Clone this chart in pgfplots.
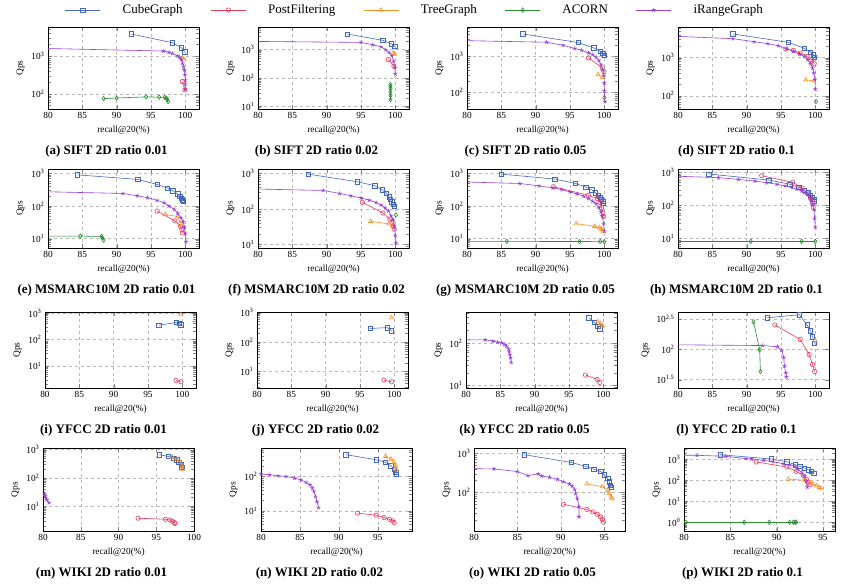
\documentclass[border=0pt]{standalone}
\usepackage{fontspec}
\setmainfont{Liberation Serif}
\usepackage{pgfplots}
\pgfplotsset{compat=1.18}

\definecolor{cCube}{RGB}{68,104,190}
\definecolor{cPost}{RGB}{232,58,92}
\definecolor{cTree}{RGB}{247,146,40}
\definecolor{cAcorn}{RGB}{40,140,48}
\definecolor{cIRange}{RGB}{150,62,214}

\pgfkeys{/pgf/number format/assume math mode=true}
\pgfplotsset{
  log number format basis/.code 2 args={#1\textsuperscript{\pgfmathprintnumber{#2}}},
}
\pgfplotsset{
  panel/.style={
    scale only axis, width=151pt, anchor=north west,
    xmin=80, xmax=102,
    xtick={80,85,90,95,100},
    grid=major, major grid style={dashed, gray!55, line width=0.5pt},
    tick label style={font=\fontsize{9.3}{10}\selectfont},
    label style={font=\fontsize{9.3}{10}\selectfont},
    xlabel={recall@20(\%)}, ylabel={Qps},
    title style={at={(0.5,0)}, anchor=center, yshift=-48pt, xshift=-17pt,
                 font=\fontsize{13}{15}\selectfont\bfseries},
    axis line style={line width=0.8pt},
    every axis plot/.append style={line width=0.6pt},
  },
  cube/.style={color=cCube, mark=square, mark size=2.2pt},
  post/.style={color=cPost, mark=o, mark size=2.2pt},
  tree/.style={color=cTree, mark=triangle, mark size=2.4pt},
  acorn/.style={color=cAcorn, mark=diamond, mark size=2.2pt},
  irange/.style={color=cIRange, mark=star, mark size=2.1pt},
}

\begin{document}
\begin{tikzpicture}

% ---------------- row 1: SIFT ----------------
\begin{semilogyaxis}[panel, at={(48pt,-27pt)}, height=82pt, ymin=40, ymax=5800,
  title={(a) SIFT 2D ratio 0.01},
  legend columns=5,
  legend style={at={(2.43,1.207)}, anchor=center, draw=none, fill=none,
    font=\fontsize{13}{15}\selectfont,
    /tikz/every odd column/.append style={column sep=20pt},
    /tikz/every even column/.append style={column sep=26pt}},
  legend image code/.code={\draw[mark repeat=2,mark phase=2]
    plot coordinates {(0pt,0pt) (17.5pt,0pt) (35pt,0pt)};}]
\addplot[cube] coordinates {(92.1,3800)(98.1,2240)(99.4,1660)(99.95,1300)};
\addlegendentry{CubeGraph}
\addplot[post] coordinates {(99.55,211)(99.95,127)};
\addlegendentry{PostFiltering}
\addplot[tree] coordinates {(99.6,900)(99.8,800)};
\addlegendentry{TreeGraph}
\addplot[acorn] coordinates {(88.1,75)(90.0,78)(94.3,83.5)(96.2,82)(97.0,81)(97.2,78)(97.4,72)(97.5,62)};
\addlegendentry{ACORN}
\addplot[irange] coordinates {(70,1720)(96.8,1350)(97.6,1250)(98.1,1170)(98.9,1000)(99.2,900)(99.4,815)(99.6,640)(99.75,530)(99.85,430)(99.95,320)(100,230)(100,180)(100,130)};
\addlegendentry{iRangeGraph}
\end{semilogyaxis}

\begin{semilogyaxis}[panel, at={(258pt,-27pt)}, height=82pt, ymin=8, ymax=6300,
  title={(b) SIFT 2D ratio 0.02}]
\addplot[cube] coordinates {(93.0,3550)(98.2,2130)(99.4,1630)(99.95,1310)};
\addplot[post] coordinates {(99.0,445)(99.8,260)};
\addplot[tree] coordinates {(99.7,760)(99.9,700)};
\addplot[acorn] coordinates {(99.3,58)(99.3,50)(99.3,42)(99.3,32)(99.3,24)(99.3,17)};
\addplot[irange] coordinates {(70,2050)(95.0,1800)(96.7,1480)(97.9,1270)(98.6,1000)(99.1,800)(99.5,610)(99.75,390)(99.95,228)(100,138)};
\end{semilogyaxis}

\begin{semilogyaxis}[panel, at={(467pt,-27pt)}, height=82pt, ymin=34, ymax=6500,
  title={(c) SIFT 2D ratio 0.05}]
\addplot[cube] coordinates {(88.1,4170)(96.2,2400)(98.5,1700)(99.4,1380)(99.8,1190)(100,1070)};
\addplot[post] coordinates {(97.7,900)(99.7,475)(99.95,370)};
\addplot[tree] coordinates {(99.1,310)(99.75,256)};
\addplot[acorn] coordinates {(100,71)};
\addplot[irange] coordinates {(70,2950)(91.6,2450)(94.0,2020)(95.7,1630)(96.7,1470)(97.7,1240)(98.3,1110)(98.8,940)(99.2,760)(99.5,590)(99.75,425)(99.95,290)(100,180)(100,107)(100.1,54)};
\end{semilogyaxis}

\begin{semilogyaxis}[panel, at={(678pt,-27pt)}, height=82pt, ymin=45, ymax=6400,
  title={(d) SIFT 2D ratio 0.1}]
\addplot[cube] coordinates {(88.0,4200)(96.1,2530)(98.4,1760)(99.3,1410)(99.7,1200)(99.9,1040)};
\addplot[post] coordinates {(95.7,1690)(96.8,1560)(97.8,1320)(98.8,1080)(99.5,890)(99.85,695)};
\addplot[tree] coordinates {(98.6,263)(99.75,245)};
\addplot[acorn] coordinates {(100.1,71)};
\addplot[irange] coordinates {(70,4300)(88.0,3160)(91.1,2630)(93.1,2335)(94.6,2070)(95.8,1725)(96.8,1468)(97.7,1248)(98.4,1084)(98.9,886)(99.3,695)(99.6,535)(99.8,395)(99.95,264)(100,150)};
\end{semilogyaxis}

% ---------------- row 2: MSMARC10M ----------------
\begin{semilogyaxis}[panel, at={(48pt,-169pt)}, height=79pt, ymin=5.2, ymax=1360,
  title={(e) MSMARC10M 2D ratio 0.01}]
\addplot[cube] coordinates {(84.3,900)(93.1,653)(95.9,457)(97.4,355)(98.2,294)(98.9,234)(99.2,200)(99.4,176)(99.6,157)(99.7,140)};
\addplot[post] coordinates {(95.9,70)(98.5,35)(99.3,24)(99.5,19)(99.6,15)};
\addplot[tree] coordinates {(97.1,55)(98.9,48)(99.3,30)};
\addplot[acorn] coordinates {(70,12)(84.7,12)(87.8,11.8)(87.9,10.8)(88.1,9.0)};
\addplot[irange] coordinates {(70,304)(90.9,243)(93.0,206)(94.5,180)(95.9,149)(96.9,127)(97.6,100)(98.4,79)(98.9,60)(99.4,44)(99.7,33)(99.85,23)(100,14.6)(100.1,7.9)};
\end{semilogyaxis}

\begin{semilogyaxis}[panel, at={(258pt,-169pt)}, height=79pt, ymin=8, ymax=1330,
  title={(f) MSMARC10M 2D ratio 0.02}]
\addplot[cube] coordinates {(87.35,950)(94.5,582)(97.0,449)(98.1,346)(98.7,273)(99.1,220)(99.3,185)(99.5,158)(99.7,137)(99.85,120)};
\addplot[post] coordinates {(95.2,154)(98.2,77)(99.2,52)(99.5,42)(99.7,33)(99.85,27)};
\addplot[tree] coordinates {(96.4,45)(99.1,38)(99.6,34)};
\addplot[acorn] coordinates {(100.1,68)};
\addplot[irange] coordinates {(70,400)(89.5,332)(91.9,273)(93.5,236)(95.0,204)(96.2,177)(97.2,152)(97.9,130)(98.5,109)(99.0,88)(99.4,65)(99.7,50)(99.85,34)(100,18)(100.1,11)};
\end{semilogyaxis}

\begin{semilogyaxis}[panel, at={(467pt,-169pt)}, height=79pt, ymin=5.2, ymax=1360,
  title={(g) MSMARC10M 2D ratio 0.05}]
\addplot[cube] coordinates {(85.0,950)(92.8,670)(95.8,492)(97.3,378)(98.2,311)(98.7,254)(99.1,216)(99.4,185)(99.6,162)(99.8,140)(99.9,122)};
\addplot[post] coordinates {(92.6,390)(97.7,213)(99.0,170)(99.4,128)(99.6,89)(99.8,63)(99.9,48)};
\addplot[tree] coordinates {(95.9,29)(98.6,24)(99.3,22)(99.6,19.4)(99.8,17)};
\addplot[acorn] coordinates {(70,8.3)(85.8,8.3)(96.4,8.2)(99.4,8.3)(100,8.1)};
\addplot[irange] coordinates {(70,620)(87.7,490)(90.5,414)(92.5,360)(93.8,320)(95.0,272)(96.0,236)(97.0,200)(97.7,170)(98.3,140)(98.8,118)(99.2,89)(99.5,67)(99.7,50)(99.9,29)(100,17)};
\end{semilogyaxis}

\begin{semilogyaxis}[panel, at={(678pt,-169pt)}, height=79pt, ymin=5.2, ymax=1260,
  title={(h) MSMARC10M 2D ratio 0.1}]
\addplot[cube] coordinates {(84.5,890)(93.2,586)(96.3,437)(97.6,352)(98.4,288)(99.0,240)(99.3,204)(99.6,178)(99.8,154)(99.9,134)};
\addplot[post] coordinates {(92.2,790)(96.7,500)(98.1,333)(98.9,236)(99.3,168)(99.6,120)(99.7,88)};
\addplot[acorn] coordinates {(70,8.3)(90.6,8.3)(98.0,8.3)(100,8.3)};
\addplot[irange] coordinates {(70,900)(85.9,690)(88.8,613)(91.2,546)(92.9,487)(94.4,437)(95.6,390)(96.6,348)(97.3,310)(98.0,278)(98.4,245)(98.8,210)(99.2,170)(99.4,136)(99.6,104)(99.8,74)(99.9,41)(100,22)};
\end{semilogyaxis}

% ---------------- row 3: YFCC ----------------
\begin{semilogyaxis}[panel, at={(45pt,-312pt)}, height=76pt, ymin=1.45, ymax=1090,
  title={(i) YFCC 2D ratio 0.01}]
\addplot[cube] coordinates {(96.6,345)(99.1,435)(99.6,398)(99.8,355)};
\addplot[post] coordinates {(99.1,2.8)(99.8,2.5)};
\addplot[tree] coordinates {(99.8,865)};
\end{semilogyaxis}

\begin{semilogyaxis}[panel, at={(257pt,-312pt)}, height=76pt, ymin=2.76, ymax=1050,
  title={(j) YFCC 2D ratio 0.02}]
\addplot[cube] coordinates {(96.5,290)(99.0,310)(99.6,245)};
\addplot[post] coordinates {(98.5,5.1)(99.6,4.5)};
\addplot[tree] coordinates {(99.6,673)};
\end{semilogyaxis}

\begin{semilogyaxis}[panel, at={(466pt,-312pt)}, height=76pt, ymin=8.7, ymax=540,
  title={(k) YFCC 2D ratio 0.05}]
\addplot[cube] coordinates {(97.9,395)(98.7,305)(99.2,250)(99.5,215)};
\addplot[post] coordinates {(97.4,17.6)(99.1,13.9)(99.5,11.8)};
\addplot[tree] coordinates {(99.2,320)(99.6,285)(99.9,257)};
\addplot[irange] coordinates {(70,121)(82.8,119)(83.9,111)(84.6,105)(85.2,102)(85.6,93)(85.9,84)(86.2,72)(86.3,63)(86.4,53)(86.5,45)(86.6,35)};
\end{semilogyaxis}

\begin{semilogyaxis}[panel, at={(678pt,-312pt)}, height=76pt, ymin=23, ymax=410,
  ytick={31.6228,100,316.228}, minor ytick={},
  yticklabels={10\textsuperscript{1.5},10\textsuperscript{2},10\textsuperscript{2.5}},
  title={(l) YFCC 2D ratio 0.1}]
\addplot[cube] coordinates {(93.0,330)(97.7,370)(98.8,252)(99.3,200)(99.6,160)(99.9,126)};
\addplot[post] coordinates {(94.1,250)(97.8,145)(99.1,82)(99.6,56)(99.9,43)};
\addplot[tree] coordinates {(100,140)};
\addplot[acorn] coordinates {(91.0,282)(91.9,98)(92.0,43)};
\addplot[irange] coordinates {(70,121)(92.3,115)(94.5,110)(95.1,96)(95.4,73)(95.5,53)(95.7,41)(95.8,35)};
\end{semilogyaxis}

% ---------------- row 4: WIKI ----------------
\begin{semilogyaxis}[panel, at={(43pt,-448pt)}, height=83pt, ymin=1.3, ymax=1150,
  xmax=100,
  title={(m) WIKI 2D ratio 0.01}]
\addplot[cube] coordinates {(95.4,663)(96.6,578)(97.3,504)(97.7,440)(98.0,363)(98.3,291)(98.4,240)};
\addplot[post] coordinates {(92.6,3.7)(96.2,3.4)(96.8,3.2)(97.1,2.9)(97.4,2.6)(97.5,2.4)};
\addplot[tree] coordinates {(97.1,547)(97.7,464)(98.2,353)(98.4,268)(98.5,204)};
\addplot[irange] coordinates {(70,30)(80.2,27)(80.3,22.6)(80.4,18.8)(80.5,16.4)(80.8,13.2)};
\end{semilogyaxis}

\begin{semilogyaxis}[panel, at={(261pt,-448pt)}, height=83pt, ymin=2.6, ymax=668,
  xmax=99.4, xtick={80,85,90,95},
  title={(n) WIKI 2D ratio 0.02}]
\addplot[cube] coordinates {(90.9,428)(94.8,305)(96.0,256)(96.7,204)(97.1,163)(97.3,131)(97.4,114)};
\addplot[post] coordinates {(92.4,8.6)(94.8,7.5)(95.8,6.4)(96.5,5.7)(96.9,5.1)(97.1,4.6)};
\addplot[tree] coordinates {(96.0,383)(96.7,320)(97.1,256)(97.3,204)(97.4,156)};
\addplot[irange] coordinates {(70,125)(80.0,117)(81.1,112)(82.2,105)(83.2,100)(84.3,89)(85.1,80)(85.8,67)(86.3,57)(86.6,46)(86.8,37)(87.0,26)(87.2,18.5)(87.4,12.4)};
\end{semilogyaxis}

\begin{semilogyaxis}[panel, at={(474pt,-448pt)}, height=83pt, ymin=10.5, ymax=1340,
  xmax=97.4, xtick={80,85,90,95},
  title={(o) WIKI 2D ratio 0.05}]
\addplot[cube] coordinates {(85.8,906)(91.2,577)(92.9,455)(93.8,389)(94.6,339)(95.0,278)(95.4,229)(95.6,188)(95.7,154)(95.8,134)};
\addplot[post] coordinates {(90.3,50)(93.0,37)(93.7,32)(94.2,28)(94.6,24)(94.8,20.5)(94.9,17.7)};
\addplot[tree] coordinates {(93.0,164)(94.8,140)(95.4,115)(95.6,94)(95.8,77)(95.9,70)};
\addplot[irange] coordinates {(70,430)(82.3,394)(85.0,339)(86.2,268)(87.4,295)(87.8,262)(88.7,242)(89.6,216)(90.3,188)(91.0,164)(91.3,145)(91.6,119)(91.7,94)(91.9,70)(92.1,43)(92.1,24)};
\end{semilogyaxis}

\begin{semilogyaxis}[panel, at={(684pt,-448pt)}, height=83pt, ymin=0.4, ymax=3300,
  xmax=96.3, xtick={80,85,90,95},
  title={(p) WIKI 2D ratio 0.1}]
\addplot[cube] coordinates {(83.9,1600)(89.4,1000)(91.1,748)(92.0,540)(92.5,450)(93.0,376)(93.4,314)(93.75,262)(94.0,218)};
\addplot[post] coordinates {(87.8,721)(91.1,419)(92.1,262)(92.9,163)(93.2,113)(93.4,79)(93.6,61)};
\addplot[tree] coordinates {(91.25,113)(93.0,100)(93.6,79)(93.9,66)(94.3,55)(94.6,46)(94.8,40)};
\addplot[acorn] coordinates {(70,1.04)(80.2,1.04)(86.5,1.04)(89.2,1.04)(91.4,1.04)(91.8,1.04)(92.0,1.04)(92.1,1.04)};
\addplot[irange] coordinates {(70,1650)(81.4,1490)(84.5,1340)(86.7,1040)(87.3,1000)(88.6,865)(89.6,748)(90.7,600)(91.4,540)(92.0,450)(92.3,337)(92.7,234)(93.0,151)(93.2,87)(93.3,47)};
\end{semilogyaxis}

\pgfresetboundingbox
\path[use as bounding box] (0pt,0pt) rectangle (842pt,-584pt);
\end{tikzpicture}
\end{document}
